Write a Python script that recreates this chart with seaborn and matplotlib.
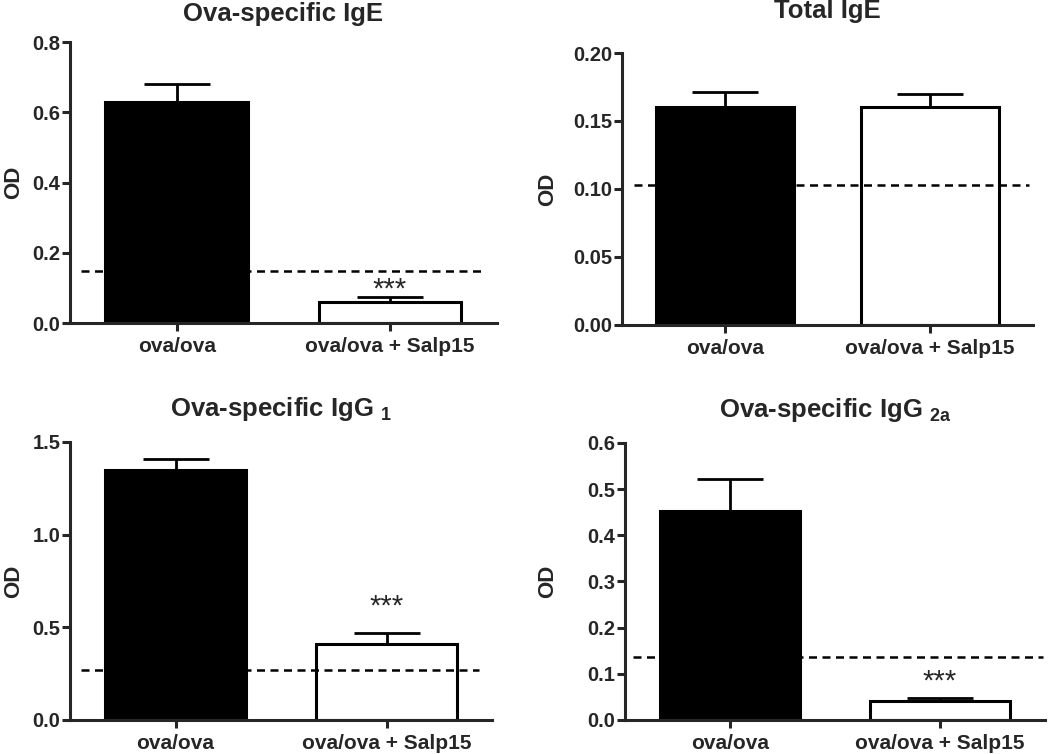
import numpy as np
import pandas as pd
import seaborn as sns
import matplotlib.pyplot as plt
import matplotlib.ticker as mticker

sns.set_style("ticks")
plt.rcParams['font.family'] = ['Liberation Sans', 'DejaVu Sans']
plt.rcParams['font.weight'] = 'bold'
plt.rcParams['mathtext.fontset'] = 'custom'
plt.rcParams['mathtext.rm'] = 'Liberation Sans:bold'
plt.rcParams['mathtext.default'] = 'rm'

groups = ["ova/ova", "ova/ova + Salp15"]

# panel data
titles = ["Ova-specific IgE", "Total IgE", "Ova-specific IgG $_{1}$", "Ova-specific IgG $_{2a}$"]
means = [[0.63, 0.06], [0.160, 0.160], [1.35, 0.41], [0.453, 0.042]]
sems = [[0.05, 0.015], [0.011, 0.010], [0.06, 0.06], [0.068, 0.005]]
cutoffs = [0.147, 0.103, 0.27, 0.137]
stars_y = [0.095, None, 0.61, 0.083]
ymax = [0.8, 0.20, 1.5, 0.6]
ystep = [0.2, 0.05, 0.5, 0.1]
yfmt = ['%.1f', '%.2f', '%.1f', '%.1f']

# layout (figure fractions) and tweaks
boxes = [[0.0667, 0.5716, 0.4063, 0.3724],
         [0.5924, 0.5690, 0.3914, 0.3607],
         [0.0667, 0.0451, 0.4019, 0.3687],
         [0.5952, 0.0451, 0.4000, 0.3674]]
title_pad = [15.5, 25, 19, 19]
label_x = [-0.108, -0.156, -0.109, -0.16]
cut_span = [(-0.45, 1.44), (-0.44, 1.48), (-0.45, 1.44), (-0.46, 1.49)]

fig = plt.figure(figsize=(10.5, 7.54), dpi=100)

for i in range(4):
    ax = fig.add_axes(boxes[i])
    df = pd.DataFrame({"group": groups, "od": means[i]})
    sns.barplot(data=df, x="group", y="od", hue="group", palette=["black", "white"],
                edgecolor="black", linewidth=2.2, width=0.67, ax=ax, legend=False,
                saturation=1)
    ax.errorbar([0, 1], means[i], yerr=[[0, 0], sems[i]], fmt="none", ecolor="black",
                elinewidth=2, capsize=24, capthick=2, zorder=1)
    ax.hlines(cutoffs[i], cut_span[i][0], cut_span[i][1], colors="black",
              linestyles=(0, (3.2, 2.2)), linewidth=1.8, zorder=3)
    if stars_y[i] is not None:
        ax.text(1, stars_y[i], "***", ha="center", va="center", fontsize=21,
                fontweight="normal")

    ax.set_xlim(-0.5, 1.5)
    ax.set_ylim(0, ymax[i])
    ax.yaxis.set_major_locator(mticker.MultipleLocator(ystep[i]))
    ax.yaxis.set_major_formatter(mticker.FormatStrFormatter(yfmt[i]))
    ax.set_xlabel("")
    ax.set_ylabel("OD", fontsize=16, fontweight="bold")
    ax.yaxis.set_label_coords(label_x[i], 0.5)
    ax.set_title(titles[i], fontsize=18.5, fontweight="bold", pad=title_pad[i])

    sns.despine(ax=ax)
    for s in ["left", "bottom"]:
        ax.spines[s].set_linewidth(2.2)
    ax.tick_params(axis="both", width=2.2, length=6, direction="out")
    ax.tick_params(axis="y", labelsize=14.5, pad=1)
    ax.tick_params(axis="x", labelsize=15, pad=4)
    for lab in ax.get_xticklabels() + ax.get_yticklabels():
        lab.set_fontweight("bold")

plt.savefig("out.png", dpi=100)
